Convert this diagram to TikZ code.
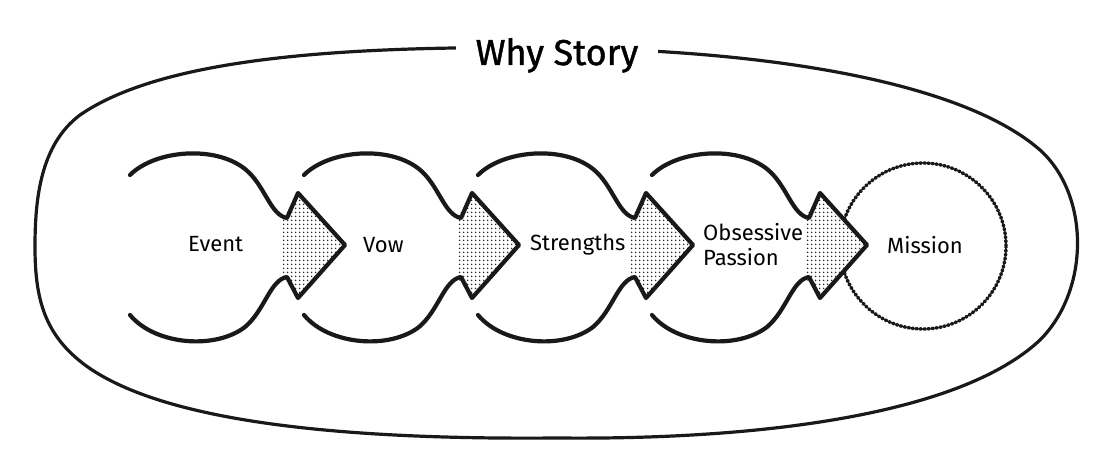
\documentclass[tikz,border=0pt]{standalone}
\usepackage{fontspec}
\setmainfont{Fira Sans}
\newfontfamily\headfont{Fira Sans}[FakeBold=1.2]
\usetikzlibrary{patterns.meta}
\usetikzlibrary{positioning}
\tikzset{
  % rough ink line of the sketch
  ink path/.style = {
    draw = black!90,
    line width = 4.2pt,
    line join = round,
    line cap = round
  },
  % the big loop round everything
  outer loop/.style = {
    ink path,
    line width = 3.2pt
  },
  % dotted grain inside each arrow head
  head grain/.style = {
    pattern = {Dots[distance=4pt, radius=1pt]},
    pattern color = black!85
  }
}
\tikzset {
  stage/.style = {
    font = \fontsize{22}{25}\selectfont,
    inner sep = 0,
    align = left
  },
  % the last stage is a dotted ring
  goal ring/.style = {
    draw = black!90,
    circle,
    dash pattern = on 1.6pt off 2.4pt,
    line width = 3.4pt,
    line cap = round,
    minimum size = 166pt,
    inner sep = 0
  },
  heading/.style = {
    font = \headfont\fontsize{36}{40}\selectfont,
    fill = white,
    inner xsep = 20pt,
    inner ysep = 2pt
  }
}

\begin{document}
\begin{tikzpicture}[x=1pt, y=-1pt]
  \fill[white] (0,0) rectangle (1097,468);
  \useasboundingbox (0,0) rectangle (1097,468);

  \draw[outer loop] (557,48)
    .. controls (760,50) and (960,80) .. (1040,150)
    .. controls (1090,195) and (1090,290) .. (1040,340)
    .. controls (960,415) and (760,440) .. (557,438)
    .. controls (330,440) and (160,420) .. (85,365)
    .. controls (45,335) and (35,300) .. (35,247)
    .. controls (35,200) and (40,145) .. (80,115)
    .. controls (160,60) and (330,45) .. cycle;
  \node[heading, anchor=base] (why) at (557,65) {Why Story};

  \node[goal ring] (ring) at (923,246) {};

  \foreach \i/\tx in {1/345, 2/519, 3/693, 4/867} {
    \coordinate (tip\i) at (\tx,245);
    \begin{scope}[shift={(tip\i)}]
      \fill[white] (-62,-27) -- (-47,-52) -- (0,0) -- (-47,53) -- (-62,32) -- cycle;
      \fill[head grain] (-62,-27) -- (-47,-52) -- (0,0) -- (-47,53) -- (-62,32) -- cycle;
      \draw[ink path] (-215,-70)
        .. controls (-190,-95) and (-130,-100) .. (-100,-76)
        .. controls (-80,-60) and (-75,-30) .. (-58,-27)
        -- (-47,-52) -- (0,0) -- (-47,53) -- (-58,32)
        .. controls (-75,35) and (-80,65) .. (-100,82)
        .. controls (-130,105) and (-190,100) .. (-215,70);
    \end{scope}
  }

  \node[stage, anchor=west] (event) at (188,244) {Event};
  \node[stage, right=18pt of tip1] (vow) {Vow};
  \node[stage, right=11pt of tip2] (strengths) {Strengths};
  \node[stage, right=10pt of tip3] (passion) {Obsessive\\Passion};
  \node[stage, right=20pt of tip4] (mission) {Mission};

\end{tikzpicture}
\end{document}
